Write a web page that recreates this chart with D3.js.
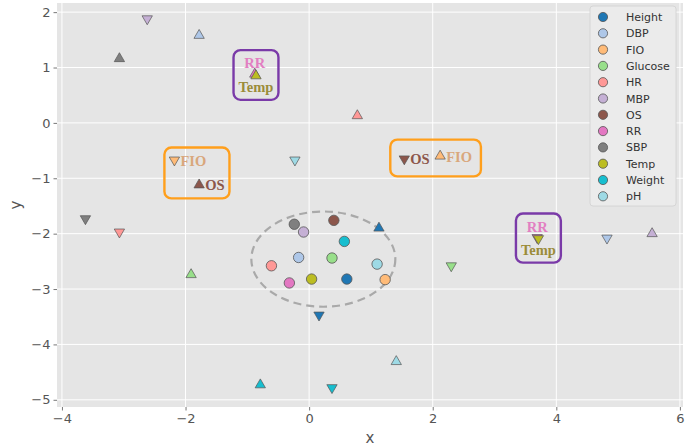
<!DOCTYPE html>
<html>
<head>
<meta charset="utf-8">
<script src="https://cdn.jsdelivr.net/npm/d3@7"></script>
<style>
  html, body { margin: 0; padding: 0; background: #ffffff; }
  svg { display: block; }
</style>
</head>
<body>
<svg id="chart" width="685" height="447"></svg>
<script>
// Variables and their colours
const variables = ["Height", "DBP", "FIO", "Glucose", "HR", "MBP", "OS", "RR", "SBP", "Temp", "Weight", "pH"];
const colors = ["#1f77b4", "#aec7e8", "#ffbb78", "#98df8a", "#ff9896", "#c5b0d5", "#8c564b", "#e377c2", "#7f7f7f", "#bcbd22", "#17becf", "#9edae5"];

// Circle (centre) positions
const circleX = [0.61, -0.17, 1.23, 0.37, -0.61, -0.09, 0.40, -0.32, -0.24, 0.04, 0.57, 1.10];
const circleY = [-2.82, -2.43, -2.83, -2.44, -2.58, -1.97, -1.76, -2.89, -1.83, -2.82, -2.14, -2.55];

// Upward triangle positions
const upX = [1.13, -1.78, 2.12, -1.91, 0.78, 5.55, -1.78, -0.88, -3.07, -0.86, -0.79, 1.41];
const upY = [-1.90, 1.58, -0.60, -2.74, 0.13, -2.00, -1.12, 0.88, 1.16, 0.85, -4.73, -4.31];

// Downward triangle positions
const downX = [0.16, 4.82, -2.18, 2.30, -3.07, -2.62, 1.54, 3.69, -3.62, 3.71, 0.37, -0.23];
const downY = [-3.47, -2.08, -0.67, -2.58, -1.97, 1.88, -0.65, -2.07, -1.73, -2.09, -4.78, -0.67];

// Dashed ellipse around the centres
const ellipseCenter = [0.23, -2.46];
const ellipseRadii = [1.165, 0.86];

// Tick values
const xTicks = [-4, -2, 0, 2, 4, 6];
const yTicks = [-5, -4, -3, -2, -1, 0, 1, 2];

// Annotated groups: [variable, marker, label placement]
const groups = [
  { edge: "#7a3aa8", items: [["RR", "up", "above"], ["Temp", "up", "below"]] },
  { edge: "#ff9f1c", items: [["FIO", "down", "right"], ["OS", "up", "right"]] },
  { edge: "#ff9f1c", items: [["OS", "down", "right"], ["FIO", "up", "right"]] },
  { edge: "#7a3aa8", items: [["RR", "down", "above"], ["Temp", "down", "below"]] }
];
const boxPads = [5, 5, 9, 5];
const labelColors = { RR: "#e27fc2", Temp: "#9b8c3a", FIO: "#d9a77c", OS: "#8c564b" };

const svg = d3.select("#chart");
const plot = { left: 57, right: 683, top: 3, bottom: 407 };

const x = d3.scaleLinear().domain([-4.08, 6.05]).range([plot.left, plot.right]);
const y = d3.scaleLinear().domain([-5.13, 2.165]).range([plot.bottom, plot.top]);
const color = d3.scaleOrdinal().domain(variables).range(colors);

// Background
svg.append("rect")
  .attr("x", plot.left).attr("y", plot.top)
  .attr("width", plot.right - plot.left).attr("height", plot.bottom - plot.top)
  .attr("fill", "#e5e5e5");

// Grid
const grid = svg.append("g");
grid.selectAll(".gx").data(xTicks).join("line")
  .attr("x1", d => x(d)).attr("x2", d => x(d))
  .attr("y1", plot.top).attr("y2", plot.bottom)
  .attr("stroke", "#ffffff").attr("stroke-width", 1);
grid.selectAll(".gy").data(yTicks).join("line")
  .attr("y1", d => y(d)).attr("y2", d => y(d))
  .attr("x1", plot.left).attr("x2", plot.right)
  .attr("stroke", "#ffffff").attr("stroke-width", 1);

// Axes
const fmt = d => (d < 0 ? "\u2212" + Math.abs(d) : String(d));
const xAxis = svg.append("g")
  .attr("transform", `translate(0,${plot.bottom})`)
  .call(d3.axisBottom(x).tickValues(xTicks).tickFormat(fmt).tickSize(3.5).tickPadding(3));
const yAxis = svg.append("g")
  .attr("transform", `translate(${plot.left},0)`)
  .call(d3.axisLeft(y).tickValues(yTicks).tickFormat(fmt).tickSize(3.5).tickPadding(3));
[xAxis, yAxis].forEach(a => {
  a.select(".domain").remove();
  a.selectAll(".tick line").attr("stroke", "#555555").attr("stroke-width", 0.8);
  a.selectAll(".tick text")
    .attr("fill", "#555555")
    .style("font-family", "DejaVu Sans, sans-serif")
    .style("font-size", "13px");
});

svg.append("text")
  .attr("x", (plot.left + plot.right) / 2).attr("y", 443)
  .attr("text-anchor", "middle")
  .attr("fill", "#555555")
  .style("font-family", "DejaVu Sans, sans-serif").style("font-size", "15px")
  .text("x");
svg.append("text")
  .attr("transform", `translate(21,${(plot.top + plot.bottom) / 2}) rotate(-90)`)
  .attr("text-anchor", "middle")
  .attr("fill", "#555555")
  .style("font-family", "DejaVu Sans, sans-serif").style("font-size", "15px")
  .text("y");

// Dashed ellipse
svg.append("ellipse")
  .attr("cx", x(ellipseCenter[0])).attr("cy", y(ellipseCenter[1]))
  .attr("rx", x(ellipseCenter[0] + ellipseRadii[0]) - x(ellipseCenter[0]))
  .attr("ry", y(ellipseCenter[1]) - y(ellipseCenter[1] + ellipseRadii[1]))
  .attr("fill", "none")
  .attr("stroke", "#a9a9a9")
  .attr("stroke-width", 2.2)
  .attr("stroke-dasharray", "8,5");

// Markers
const tri = d3.symbol().type(d3.symbolTriangle).size(46);
const marks = svg.append("g");

function markerPos(i, m) {
  return m === "up" ? [x(upX[i]), y(upY[i])] : [x(downX[i]), y(downY[i])];
}

variables.forEach((v, i) => {
  marks.append("path")
    .attr("d", tri())
    .attr("transform", `translate(${x(upX[i])},${y(upY[i])})`)
    .attr("fill", color(v)).attr("stroke", "#555555").attr("stroke-width", 0.7);
  marks.append("path")
    .attr("d", tri())
    .attr("transform", `translate(${x(downX[i])},${y(downY[i])}) rotate(180)`)
    .attr("fill", color(v)).attr("stroke", "#555555").attr("stroke-width", 0.7);
});
variables.forEach((v, i) => {
  marks.append("circle")
    .attr("cx", x(circleX[i])).attr("cy", y(circleY[i]))
    .attr("r", 5.2)
    .attr("fill", color(v)).attr("stroke", "#555555").attr("stroke-width", 0.8);
});

// Annotation labels with rounded boxes around markers and labels
groups.forEach((g, gi) => {
  const gg = svg.append("g");
  let x0 = Infinity, y0 = Infinity, x1 = -Infinity, y1 = -Infinity;
  g.items.forEach(([v, m, place]) => {
    const i = variables.indexOf(v);
    const [px, py] = markerPos(i, m);
    x0 = Math.min(x0, px - 5); x1 = Math.max(x1, px + 5);
    y0 = Math.min(y0, py - 5); y1 = Math.max(y1, py + 5);
    const t = gg.append("text")
      .attr("fill", labelColors[v])
      .style("font-family", "Liberation Serif, Times New Roman, serif")
      .style("font-weight", "bold")
      .style("font-size", "14.5px")
      .text(v);
    if (place === "right") {
      t.attr("x", px + 6).attr("y", py + 5.5).attr("text-anchor", "start");
    } else if (place === "above") {
      t.attr("x", px).attr("y", py - 6).attr("text-anchor", "middle");
    } else {
      t.attr("x", px).attr("y", py + 16).attr("text-anchor", "middle");
    }
  });
  const bb = gg.node().getBBox();
  x0 = Math.min(x0, bb.x); y0 = Math.min(y0, bb.y);
  x1 = Math.max(x1, bb.x + bb.width); y1 = Math.max(y1, bb.y + bb.height);
  const pad = boxPads[gi];
  gg.append("rect")
    .attr("x", x0 - pad).attr("y", y0 - pad)
    .attr("width", x1 - x0 + 2 * pad).attr("height", y1 - y0 + 2 * pad)
    .attr("rx", 7).attr("ry", 7)
    .attr("fill", "none")
    .attr("stroke", g.edge).attr("stroke-width", 2.4);
});

// Legend
const legend = svg.append("g").attr("transform", "translate(590,6)");
legend.append("rect")
  .attr("x", 0).attr("y", 0).attr("width", 86).attr("height", 200)
  .attr("rx", 3).attr("fill", "#ebebeb").attr("stroke", "#d0d0d0").attr("stroke-width", 0.8);
variables.forEach((v, i) => {
  const ly = 11 + i * 16.3;
  legend.append("circle")
    .attr("cx", 13).attr("cy", ly).attr("r", 4.6)
    .attr("fill", color(v)).attr("stroke", "#555555").attr("stroke-width", 0.8);
  legend.append("text")
    .attr("x", 36).attr("y", ly + 4)
    .attr("fill", "#333333")
    .style("font-family", "DejaVu Sans, sans-serif").style("font-size", "11px")
    .text(v);
});
</script>
</body>
</html>
